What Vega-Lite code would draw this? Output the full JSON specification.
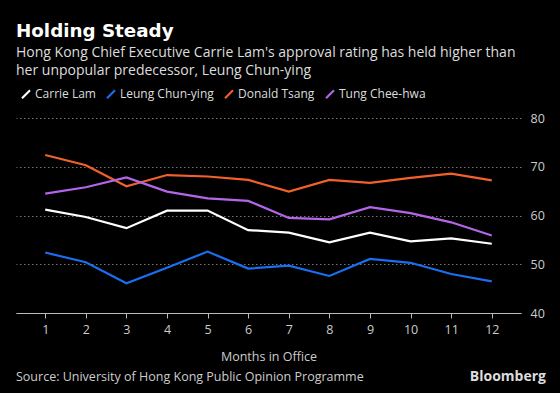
{
  "$schema": "https://vega.github.io/schema/vega-lite/v6.json",
  "autosize": "none",
  "width": 505,
  "height": 195,
  "padding": {"left": 16, "top": 118, "right": 39, "bottom": 80},
  "background": "#000000",
  "config": {
    "view": {"stroke": null},
    "font": "Open Sans"
  },
  "title": {
    "text": "Holding Steady",
    "subtitle": ["Hong Kong Chief Executive Carrie Lam's approval rating has held higher than", "her unpopular predecessor, Leung Chun-ying"],
    "anchor": "start",
    "frame": "group",
    "font": "DejaVu Sans",
    "fontSize": 18.3,
    "fontWeight": "bold",
    "color": "#ffffff",
    "subtitleFont": "Open Sans",
    "subtitleFontSize": 14,
    "subtitleColor": "#dddddd",
    "subtitlePadding": 5,
    "subtitleLineHeight": 17.5,
    "offset": 9
  },
  "data": {
    "values": [
      {"month": 1, "name": "Carrie Lam", "value": 61.2},
      {"month": 2, "name": "Carrie Lam", "value": 59.7},
      {"month": 3, "name": "Carrie Lam", "value": 57.4},
      {"month": 4, "name": "Carrie Lam", "value": 61.0},
      {"month": 5, "name": "Carrie Lam", "value": 61.0},
      {"month": 6, "name": "Carrie Lam", "value": 57.0},
      {"month": 7, "name": "Carrie Lam", "value": 56.5},
      {"month": 8, "name": "Carrie Lam", "value": 54.5},
      {"month": 9, "name": "Carrie Lam", "value": 56.5},
      {"month": 10, "name": "Carrie Lam", "value": 54.7},
      {"month": 11, "name": "Carrie Lam", "value": 55.3},
      {"month": 12, "name": "Carrie Lam", "value": 54.2},
      {"month": 1, "name": "Leung Chun-ying", "value": 52.4},
      {"month": 2, "name": "Leung Chun-ying", "value": 50.4},
      {"month": 3, "name": "Leung Chun-ying", "value": 46.1},
      {"month": 4, "name": "Leung Chun-ying", "value": 49.3},
      {"month": 5, "name": "Leung Chun-ying", "value": 52.6},
      {"month": 6, "name": "Leung Chun-ying", "value": 49.1},
      {"month": 7, "name": "Leung Chun-ying", "value": 49.7},
      {"month": 8, "name": "Leung Chun-ying", "value": 47.6},
      {"month": 9, "name": "Leung Chun-ying", "value": 51.1},
      {"month": 10, "name": "Leung Chun-ying", "value": 50.3},
      {"month": 11, "name": "Leung Chun-ying", "value": 48.0},
      {"month": 12, "name": "Leung Chun-ying", "value": 46.5},
      {"month": 1, "name": "Donald Tsang", "value": 72.4},
      {"month": 2, "name": "Donald Tsang", "value": 70.3},
      {"month": 3, "name": "Donald Tsang", "value": 66.0},
      {"month": 4, "name": "Donald Tsang", "value": 68.3},
      {"month": 5, "name": "Donald Tsang", "value": 68.0},
      {"month": 6, "name": "Donald Tsang", "value": 67.3},
      {"month": 7, "name": "Donald Tsang", "value": 64.9},
      {"month": 8, "name": "Donald Tsang", "value": 67.3},
      {"month": 9, "name": "Donald Tsang", "value": 66.7},
      {"month": 10, "name": "Donald Tsang", "value": 67.7},
      {"month": 11, "name": "Donald Tsang", "value": 68.6},
      {"month": 12, "name": "Donald Tsang", "value": 67.2},
      {"month": 1, "name": "Tung Chee-hwa", "value": 64.5},
      {"month": 2, "name": "Tung Chee-hwa", "value": 65.8},
      {"month": 3, "name": "Tung Chee-hwa", "value": 67.8},
      {"month": 4, "name": "Tung Chee-hwa", "value": 64.9},
      {"month": 5, "name": "Tung Chee-hwa", "value": 63.5},
      {"month": 6, "name": "Tung Chee-hwa", "value": 63.0},
      {"month": 7, "name": "Tung Chee-hwa", "value": 59.5},
      {"month": 8, "name": "Tung Chee-hwa", "value": 59.2},
      {"month": 9, "name": "Tung Chee-hwa", "value": 61.7},
      {"month": 10, "name": "Tung Chee-hwa", "value": 60.5},
      {"month": 11, "name": "Tung Chee-hwa", "value": 58.6},
      {"month": 12, "name": "Tung Chee-hwa", "value": 55.9}
    ]
  },
  "layer": [
    {
      "mark": {"type": "line", "strokeWidth": 2.2},
      "encoding": {
        "x": {
          "field": "month",
          "type": "quantitative",
          "scale": {"domain": [0.28, 12.72], "nice": false, "zero": false},
          "axis": {
            "values": [1, 2, 3, 4, 5, 6, 7, 8, 9, 10, 11, 12],
            "grid": false,
            "domainColor": "#bbbbbb",
            "domainWidth": 1.2,
            "tickColor": "#bbbbbb",
            "tickSize": 5,
            "labelColor": "#cccccc",
            "labelFont": "Open Sans",
            "labelFontSize": 12.5,
            "labelPadding": 5,
            "labelFlush": false,
            "title": "Months in Office",
            "titleColor": "#cccccc",
            "titleFont": "Open Sans",
            "titleFontSize": 12.5,
            "titleFontWeight": "normal",
            "titlePadding": 15
          }
        },
        "y": {
          "field": "value",
          "type": "quantitative",
          "scale": {"domain": [40, 80], "nice": false, "zero": false},
          "axis": {
            "orient": "right",
            "values": [40, 50, 60, 70, 80],
            "grid": true,
            "gridColor": "#777777",
            "gridDash": [1.5, 2.5],
            "gridWidth": 1,
            "domain": false,
            "ticks": false,
            "labelColor": "#cccccc",
            "labelFont": "Open Sans",
            "labelFontSize": 12.5,
            "labelPadding": 9,
            "title": null
          }
        },
        "color": {
          "field": "name",
          "type": "nominal",
          "sort": ["Carrie Lam", "Leung Chun-ying", "Donald Tsang", "Tung Chee-hwa"],
          "scale": {
            "domain": ["Carrie Lam", "Leung Chun-ying", "Donald Tsang", "Tung Chee-hwa"],
            "range": ["#ffffff", "#1a6ff0", "#f2612c", "#b466ea"]
          },
          "legend": {
            "title": null,
            "orient": "none",
            "direction": "horizontal",
            "legendX": 4,
            "legendY": -30,
            "symbolType": "M-1,1L1,-1",
            "symbolSize": 64,
            "symbolStrokeWidth": 2.2,
            "labelColor": "#dddddd",
            "labelFont": "Open Sans",
            "labelFontSize": 12,
            "labelOffset": 3,
            "columnPadding": 6
          }
        }
      }
    },
    {
      "data": {"values": [{"t": "Source: University of Hong Kong Public Opinion Programme"}]},
      "mark": {"type": "text", "align": "left", "baseline": "alphabetic", "dy": 68, "color": "#cccccc", "font": "Open Sans", "fontSize": 12.5},
      "encoding": {
        "text": {"field": "t"},
        "x": {"datum": 0.28},
        "y": {"datum": 40}
      }
    },
    {
      "data": {"values": [{"t": "Bloomberg"}]},
      "mark": {"type": "text", "align": "right", "baseline": "alphabetic", "dy": 68, "dx": 25, "color": "#dddddd", "font": "Open Sans", "fontSize": 14, "fontWeight": "bold"},
      "encoding": {
        "text": {"field": "t"},
        "x": {"datum": 12.72},
        "y": {"datum": 40}
      }
    }
  ]
}
